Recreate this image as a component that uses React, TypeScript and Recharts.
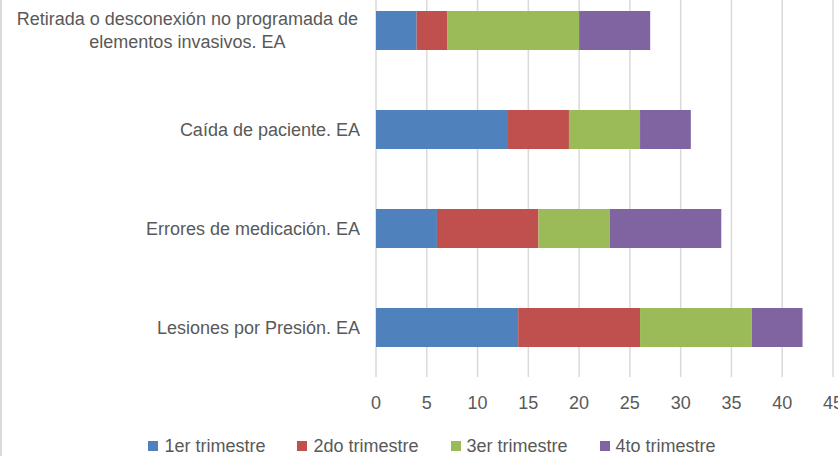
import {
  BarChart,
  Bar,
  XAxis,
  YAxis,
  CartesianGrid,
  Legend,
} from "recharts";

const CATEGORIES = [
  "Retirada o desconexión no programada de elementos invasivos. EA",
  "Caída de paciente. EA",
  "Errores de medicación. EA",
  "Lesiones por Presión. EA",
];

const Q1 = [4, 13, 6, 14];
const Q2 = [3, 6, 10, 12];
const Q3 = [13, 7, 7, 11];
const Q4 = [7, 5, 11, 5];

const SERIES = [
  { key: "q1", name: "1er trimestre", color: "#4F81BD" },
  { key: "q2", name: "2do trimestre", color: "#C0504D" },
  { key: "q3", name: "3er trimestre", color: "#9BBB59" },
  { key: "q4", name: "4to trimestre", color: "#8064A2" },
];

const X_TICKS = [0, 5, 10, 15, 20, 25, 30, 35, 40, 45];

const data = CATEGORIES.map((name, i) => ({
  name,
  q1: Q1[i],
  q2: Q2[i],
  q3: Q3[i],
  q4: Q4[i],
}));

const FONT = '"Liberation Sans", Arial, sans-serif';
const FONT_SIZE = 18;
const TEXT = "#595959";

let ctx: CanvasRenderingContext2D | null = null;
function measure(s: string) {
  if (!ctx) {
    ctx = document.createElement("canvas").getContext("2d");
  }
  if (!ctx) return s.length * 8.5;
  ctx.font = `${FONT_SIZE}px ${FONT}`;
  return ctx.measureText(s).width;
}

// wrap long category names the way Excel does (centered lines)
function wrap(label: string, maxW: number) {
  const words = label.split(" ");
  const lines: string[] = [];
  let cur = "";
  for (const w of words) {
    const next = cur ? cur + " " + w : w;
    if (cur && measure(next) > maxW) {
      lines.push(cur);
      cur = w;
    } else {
      cur = next;
    }
  }
  if (cur) lines.push(cur);
  return lines;
}

function CategoryTick(props: any) {
  const { x, y, payload } = props;
  const lines = wrap(String(payload.value), 356);
  if (lines.length === 1) {
    return (
      <text x={x} y={y} dy="0.35em" textAnchor="end" fill={TEXT} fontSize={FONT_SIZE} fontFamily={FONT}>
        {lines[0]}
      </text>
    );
  }
  const maxW = Math.max(...lines.map(measure));
  const cx = x - 2 - maxW / 2;
  const lh = 23;
  const top = y - ((lines.length - 1) * lh) / 2;
  return (
    <text textAnchor="middle" fill={TEXT} fontSize={FONT_SIZE} fontFamily={FONT}>
      {lines.map((l, i) => (
        <tspan key={i} x={cx} y={top + i * lh} dy="0.35em">
          {l}
        </tspan>
      ))}
    </text>
  );
}

function LegendBox() {
  return (
    <div
      style={{
        height: 40,
        paddingTop: 20,
        paddingLeft: 31,
        boxSizing: "border-box",
        display: "flex",
        justifyContent: "center",
        alignItems: "center",
        fontFamily: FONT,
        fontSize: FONT_SIZE,
        color: TEXT,
        lineHeight: "20px",
      }}
    >
      {SERIES.map((s, i) => (
        <div key={s.key} style={{ display: "flex", alignItems: "center", marginLeft: i ? 32 : 0 }}>
          <span style={{ width: 10, height: 10, background: s.color, marginRight: 6, display: "inline-block" }} />
          <span>{s.name}</span>
        </div>
      ))}
    </div>
  );
}

export default function App() {
  return (
    <div
      style={{
        position: "absolute",
        left: 0,
        top: 0,
        width: 838,
        height: 456,
        overflow: "hidden",
        background: "#ffffff",
      }}
    >
      <div style={{ position: "absolute", left: 0, top: -19 }}>
        <BarChart
          width={838}
          height={475}
          data={data}
          layout="vertical"
          margin={{ top: 0, right: 5, left: 0, bottom: 0 }}
        >
          <CartesianGrid horizontal={false} stroke="#d9d9d9" strokeWidth={1.5} />
          <XAxis
            type="number"
            domain={[0, 45]}
            ticks={X_TICKS}
            interval={0}
            axisLine={false}
            tickLine={false}
            tickSize={6}
            tickMargin={13}
            height={39}
            tick={{ fill: TEXT, fontSize: FONT_SIZE, fontFamily: FONT }}
          />
          <YAxis
            type="category"
            dataKey="name"
            width={376}
            axisLine={false}
            tickLine={false}
            tickSize={0}
            tickMargin={16}
            tick={<CategoryTick />}
          />
          <Legend verticalAlign="bottom" content={<LegendBox />} />
          {SERIES.map((s) => (
            <Bar
              key={s.key}
              dataKey={s.key}
              name={s.name}
              stackId="a"
              fill={s.color}
              barSize={39}
              isAnimationActive={false}
            />
          ))}
        </BarChart>
      </div>
      <div
        style={{
          position: "absolute",
          left: 0,
          top: 0,
          width: 2,
          height: 456,
          background: "#d9d9d9",
        }}
      />
    </div>
  );
}
